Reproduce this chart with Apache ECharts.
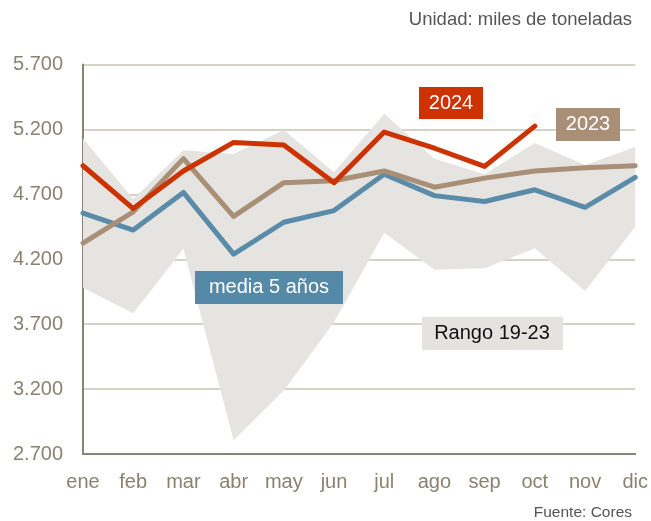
<!DOCTYPE html>
<html>
<head>
<meta charset="utf-8">
<script src="https://cdn.jsdelivr.net/npm/echarts@6/dist/echarts.min.js"></script>
<style>
html,body{margin:0;padding:0;background:#fff;}
#chart{width:651px;height:521px;}
</style>
</head>
<body>
<div id="chart"></div>
<script>
const categories = ['ene','feb','mar','abr','may','jun','jul','ago','sep','oct','nov','dic'];
const yTicks = [2700, 3200, 3700, 4200, 4700, 5200, 5700];
const serie2024 = [4920, 4590, 4880, 5100, 5080, 4790, 5180, 5055, 4915, 5225];
const serie2023 = [4325, 4565, 4975, 4530, 4790, 4805, 4880, 4755, 4825, 4880, 4905, 4920];
const media5 = [4555, 4425, 4715, 4240, 4485, 4575, 4855, 4690, 4645, 4735, 4600, 4830];
const rangoMax = [5130, 4665, 5040, 5010, 5195, 4870, 5320, 4975, 4855, 5095, 4925, 5065];
const rangoMin = [3980, 3785, 4280, 2805, 3190, 3715, 4405, 4120, 4130, 4285, 3955, 4450];

const rangoDiff = rangoMax.map((v, i) => v - rangoMin[i]);

const FONT = '"Liberation Sans", Arial, sans-serif';
const axisColor = '#8b8372';
const labelColor = '#8a8270';

const chart = echarts.init(document.getElementById('chart'), null, {renderer: 'canvas'});

function lineSeries(name, data, color, z) {
  return {
    name, type: 'line', data, symbol: 'none', z,
    lineStyle: {color, width: 5, cap: 'round', join: 'round'},
    itemStyle: {color},
    emphasis: {disabled: true}
  };
}

chart.setOption({
  animation: false,
  grid: {left: 83, right: 14, top: 64.5, bottom: 67},
  xAxis: {
    type: 'category', data: categories, boundaryGap: false,
    axisLine: {lineStyle: {color: axisColor, width: 2}},
    axisTick: {show: false},
    axisLabel: {color: labelColor, fontSize: 20, fontFamily: FONT, margin: 18, interval: 0},
    splitLine: {show: false}
  },
  yAxis: {
    type: 'value', min: yTicks[0], max: yTicks[yTicks.length - 1],
    interval: yTicks[1] - yTicks[0],
    axisLine: {show: true, lineStyle: {color: axisColor, width: 2}},
    axisTick: {show: false},
    axisLabel: {
      color: labelColor, fontSize: 20, fontFamily: FONT, margin: 20,
      formatter: v => (v / 1000).toFixed(3)
    },
    splitLine: {lineStyle: {color: '#c9c3b5', width: 1.5}}
  },
  series: [
    {
      name: 'min', type: 'line', data: rangoMin, stack: 'rango', symbol: 'none', z: 1,
      lineStyle: {opacity: 0}, silent: true
    },
    {
      name: 'Rango 19-23', type: 'line', data: rangoDiff, stack: 'rango', symbol: 'none', z: 1,
      lineStyle: {opacity: 0}, areaStyle: {color: '#e6e4e0', opacity: 1}, silent: true
    },
    lineSeries('media 5 años', media5, '#5a8caa', 3),
    lineSeries('2023', serie2023, '#a88f76', 4),
    lineSeries('2024', serie2024, '#cc3300', 5)
  ],
  graphic: [
    {type: 'text', right: 19, top: 10, style: {text: 'Unidad: miles de toneladas', fill: '#555', font: '18.5px ' + FONT}},
    {type: 'text', right: 19, top: 505, style: {text: 'Fuente: Cores', fill: '#555', font: '15.5px ' + FONT}},
    {type: 'rect', shape: {x: 419, y: 87, width: 64, height: 32}, style: {fill: '#cc3300'}, z: 10},
    {type: 'text', x: 451, y: 103, style: {text: '2024', fill: '#fff', font: '20px ' + FONT, align: 'center', verticalAlign: 'middle'}, z: 11},
    {type: 'rect', shape: {x: 556, y: 108, width: 64, height: 33}, style: {fill: '#a88f76'}, z: 10},
    {type: 'text', x: 588, y: 124.5, style: {text: '2023', fill: '#fff', font: '20px ' + FONT, align: 'center', verticalAlign: 'middle'}, z: 11},
    {type: 'rect', shape: {x: 195, y: 271, width: 148, height: 33}, style: {fill: '#5589a8'}, z: 10},
    {type: 'text', x: 269, y: 287.5, style: {text: 'media 5 años', fill: '#fff', font: '20px ' + FONT, align: 'center', verticalAlign: 'middle'}, z: 11},
    {type: 'rect', shape: {x: 422, y: 317, width: 141, height: 33}, style: {fill: '#e5e3df'}, z: 10},
    {type: 'text', x: 492, y: 333.5, style: {text: 'Rango 19-23', fill: '#111', font: '20px ' + FONT, align: 'center', verticalAlign: 'middle'}, z: 11}
  ]
});
</script>
</body>
</html>
